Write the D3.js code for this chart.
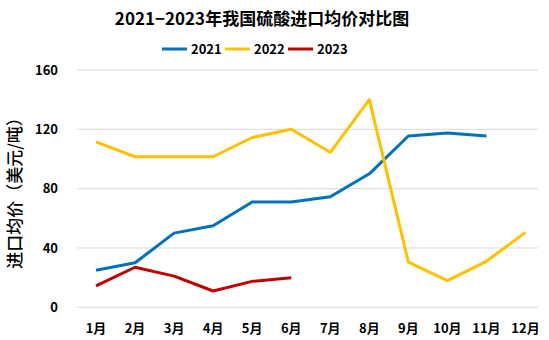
<!DOCTYPE html>
<html><head><meta charset="utf-8">
<script src="https://cdn.jsdelivr.net/npm/d3@7"></script>
<style>body{margin:0;background:#fff}svg{display:block}text{font-family:"Noto Sans CJK SC","Noto Sans",sans-serif}</style>
</head><body><svg id="c" width="549" height="340"></svg>
<script>
const months = ["1月","2月","3月","4月","5月","6月","7月","8月","9月","10月","11月","12月"];
const yTicks = [0,40,80,120,160];
const s2021 = [25,30,50,55,71,71,74.5,90,115.5,117.5,115.5];
const s2022 = [111.5,101.5,101.5,101.5,114.5,120,104.5,140,30.5,18,31,50.5];
const s2023 = [14.5,27,21,11,17.5,20];
const seriesNames = ["2021","2022","2023"];
const colors = ["#0070C0","#FFC000","#C00000"];
const allSeries = [s2021,s2022,s2023];

const svg = d3.select("#c");
const x = d3.scalePoint().domain(months).range([96,525.5]);
const y = d3.scaleLinear().domain([0,160]).range([307.3,70]);

svg.append("g").selectAll("line").data(yTicks).join("line")
  .attr("x1",77).attr("x2",538).attr("y1",d=>y(d)).attr("y2",d=>y(d))
  .attr("stroke","#d9d9d9").attr("stroke-width",1);

svg.append("g").selectAll("text").data(yTicks).join("text")
  .attr("x",58).attr("y",d=>y(d)).attr("dy","0.35em").attr("text-anchor","end")
  .attr("font-size",13).attr("font-weight","bold").text(d=>d);

svg.append("g").selectAll("text").data(months).join("text")
  .attr("x",d=>x(d)).attr("y",328).attr("dy","0.35em").attr("text-anchor","middle")
  .attr("font-size",13).attr("font-weight","bold").text(d=>d);

const line = d3.line().x((d,i)=>x(months[i])).y(d=>y(d));
allSeries.forEach((s,k)=>{
  svg.append("path").datum(s).attr("d",line).attr("fill","none")
    .attr("stroke",colors[k]).attr("stroke-width",3).attr("stroke-linejoin","round");
});

svg.append("text").attr("x",262).attr("y",25).attr("text-anchor","middle")
  .attr("font-size",17).attr("font-weight","bold").text("2021−2023年我国硫酸进口均价对比图");

const legX = [162,225,288];
seriesNames.forEach((n,k)=>{
  svg.append("line").attr("x1",legX[k]).attr("x2",legX[k]+25).attr("y1",49).attr("y2",49)
    .attr("stroke",colors[k]).attr("stroke-width",3);
  svg.append("text").attr("x",legX[k]+29).attr("y",49).attr("dy","0.35em")
    .attr("font-size",13).attr("font-weight","bold").text(n);
});

svg.append("text").attr("transform","translate(15,189) rotate(-90)")
  .attr("text-anchor","middle").attr("dy","0.35em").attr("font-size",17).attr("font-weight",500).text("进口均价（美元/吨）");
</script></body></html>
